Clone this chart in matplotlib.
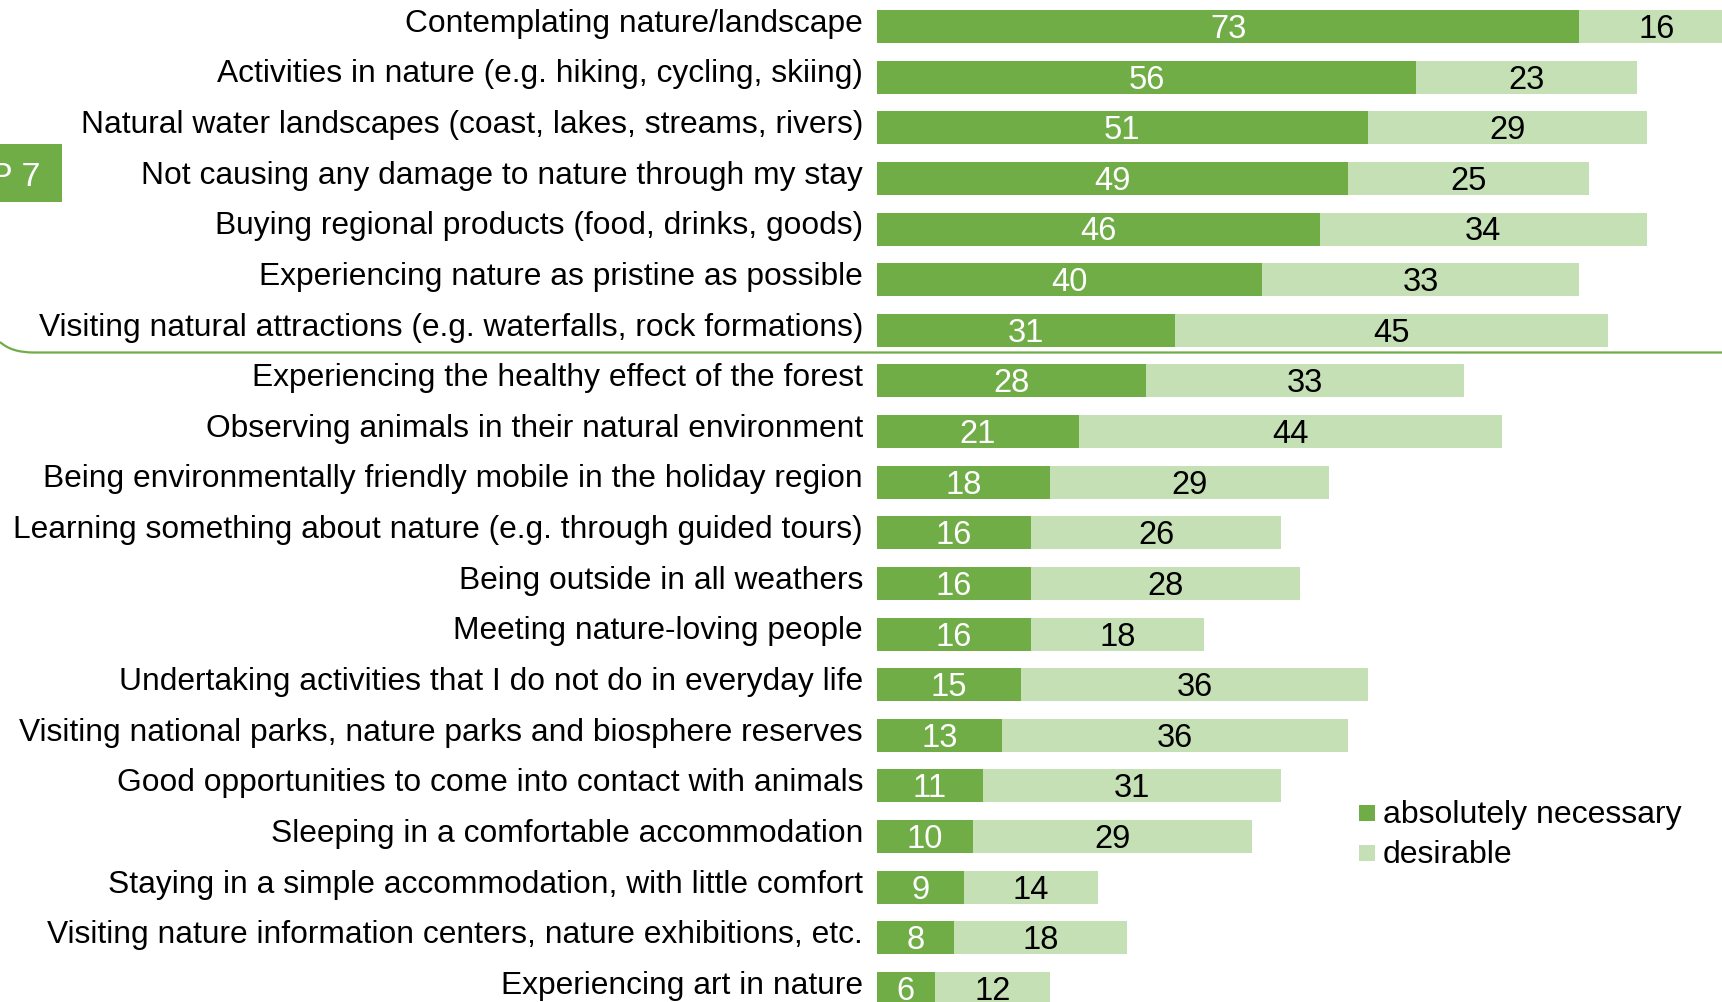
import matplotlib
matplotlib.use("Agg")
import matplotlib.pyplot as plt
from matplotlib.path import Path
from matplotlib.patches import PathPatch, Rectangle
from matplotlib.transforms import Affine2D

plt.rcParams['font.family'] = ['Liberation Sans', 'DejaVu Sans']

categories = [
    "Contemplating nature/landscape",
    "Activities in nature (e.g. hiking, cycling, skiing)",
    "Natural water landscapes (coast, lakes, streams, rivers)",
    "Not causing any damage to nature through my stay",
    "Buying regional products (food, drinks, goods)",
    "Experiencing nature as pristine as possible",
    "Visiting natural attractions (e.g. waterfalls, rock formations)",
    "Experiencing the healthy effect of the forest",
    "Observing animals in their natural environment",
    "Being environmentally friendly mobile in the holiday region",
    "Learning something about nature (e.g. through guided tours)",
    "Being outside in all weathers",
    "Meeting nature-loving people",
    "Undertaking activities that I do not do in everyday life",
    "Visiting national parks, nature parks and biosphere reserves",
    "Good opportunities to come into contact with animals",
    "Sleeping in a comfortable accommodation",
    "Staying in a simple accommodation, with little comfort",
    "Visiting nature information centers, nature exhibitions, etc.",
    "Experiencing art in nature",
]
absolutely_necessary = [73, 56, 51, 49, 46, 40, 31, 28, 21, 18, 16, 16, 16, 15, 13, 11, 10, 9, 8, 6]
desirable = [16, 23, 29, 25, 34, 33, 45, 33, 44, 29, 26, 28, 18, 36, 36, 31, 29, 14, 18, 12]
series_names = ["absolutely necessary", "desirable"]
section_label = "P 7"

DARK = "#70AD47"
LIGHT = "#C5E0B4"

W, H = 1722, 1003
fig = plt.figure(figsize=(W / 100, H / 100), dpi=100)
# pixel coordinates measured from the top-left corner of the figure
px = Affine2D().scale(1 / W, -1 / H).translate(0, 1) + fig.transFigure

x0 = 877
ax = fig.add_axes([x0 / W, 0, (W - x0) / W, 1])
ax.set_facecolor("none")
ax.set_xlim(0, (W - x0) / 9.62)
ax.set_ylim(19.267, -0.543)
ax.axis("off")

ys = list(range(len(categories)))
ax.barh(ys, absolutely_necessary, height=0.652, color=DARK, linewidth=0)
ax.barh(ys, desirable, left=absolutely_necessary, height=0.652, color=LIGHT, linewidth=0)

for y, name, a, d in zip(ys, categories, absolutely_necessary, desirable):
    ax.text(-1.45, y + 0.085, name, ha="right", va="baseline", fontsize=22.9,
            color="black", clip_on=False)
    ax.text(a / 2, y + 0.207, str(a), ha="center", va="baseline", fontsize=23.5,
            color="white")
    ax.text(a + d / 2, y + 0.207, str(d), ha="center", va="baseline", fontsize=23.5,
            color="black")

# separator below the top seven items
sep = Path([(0, 343), (8, 350), (18, 353.5), (35, 353.5), (W + 5, 353.5)],
           [Path.MOVETO, Path.CURVE4, Path.CURVE4, Path.CURVE4, Path.LINETO])
fig.patches.append(PathPatch(sep, transform=px, fill=False, edgecolor=DARK,
                             linewidth=1.6, zorder=5))

# section tab on the left edge
fig.patches.append(Rectangle((0, 145), 62, 58, transform=px, facecolor=DARK,
                             edgecolor="none", zorder=5))
fig.text(40, 186, section_label, transform=px, ha="right", va="baseline",
         fontsize=24.5, color="white", zorder=6)

# legend
for (ty, name, col) in [(814, series_names[0], DARK), (854, series_names[1], LIGHT)]:
    fig.patches.append(Rectangle((1359, ty - 8), 16, 16, transform=px,
                                 facecolor=col, edgecolor="none"))
    fig.text(1383, ty + 9, name, transform=px, ha="left", va="baseline",
             fontsize=23, color="black")

fig.savefig("out.png", dpi=100)
